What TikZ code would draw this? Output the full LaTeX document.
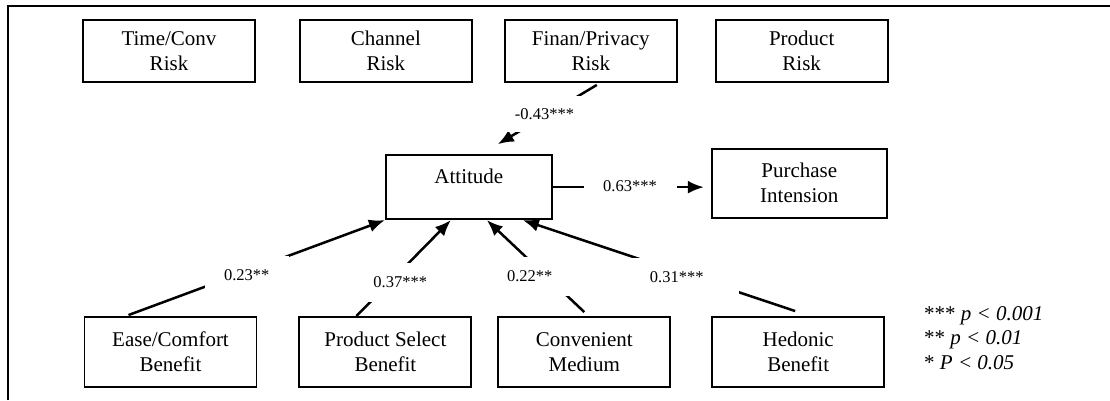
\documentclass[tikz,border=0pt]{standalone}
\usepackage{fontspec}
\setmainfont{Liberation Serif}
\usetikzlibrary{arrows.meta, positioning, calc}

\begin{document}
\begin{tikzpicture}[
    x=1pt, y=-1pt,
    block/.style={rectangle, draw, line width=1.9pt, align=center, minimum width=172pt, font=\fontsize{21pt}{25pt}\selectfont},
    riskblock/.style={block, minimum height=62pt},
    benefitblock/.style={block, minimum height=70pt},
    coef/.style={fill=white, inner sep=0pt, minimum width=84pt, minimum height=39pt, font=\fontsize{16.5pt}{19pt}\selectfont},
    effect/.style={draw, line width=2.5pt, -{Latex[length=16pt, width=13pt]}},
    legend/.style={align=left, inner sep=0pt, font=\fontsize{21pt}{24.6pt}\selectfont},
    outerframe/.style={draw, line width=2.7pt}
]
    \useasboundingbox (0,0) rectangle (1110,400);

    % Outer frame (only top and left edges fall inside the picture)
    \draw [outerframe] (8,400) |- (1110,6);

    % Row 1: Risks
    \node [riskblock] (time_risk) at (169,51) {Time/Conv\\Risk};
    \node [riskblock, right=43pt of time_risk] (channel_risk) {Channel\\Risk};
    \node [riskblock, right=31pt of channel_risk] (finan_risk) {Finan/Privacy\\Risk};
    \node [riskblock, right=37pt of finan_risk] (product_risk) {Product\\Risk};

    % Row 2: Attitude and Intention
    \node [block, minimum width=166pt, minimum height=64pt, text depth=22pt] (attitude) at (468.85,187.15) {Attitude};
    \node [block, minimum width=175pt, minimum height=69pt, right=158pt of attitude, yshift=4pt] (purchase) {Purchase\\Intension};

    % Row 3: Benefits
    \node [benefitblock] (ease_benefit) at (170.5,352) {Ease/Comfort\\Benefit};
    \node [benefitblock, right=41pt of ease_benefit] (select_benefit) {Product Select\\Benefit};
    \node [benefitblock, right=25pt of select_benefit] (conv_medium) {Convenient\\Medium};
    \node [benefitblock, right=40pt of conv_medium] (hedonic_benefit) {Hedonic\\Benefit};

    % Connections
    \path [effect] ([xshift=6pt,yshift=-2pt]finan_risk.south) -- ([xshift=29pt,yshift=10pt]attitude.north);
    \path [effect] ([xshift=-42pt,yshift=1pt]ease_benefit.north) -- (attitude.south west);
    \path [effect] ([xshift=-29pt]select_benefit.north) -- ([xshift=-18pt]attitude.south);
    \path [effect] ([yshift=4pt]conv_medium.north) -- ([xshift=18pt]attitude.south);
    \path [effect] ([xshift=-3pt,yshift=5pt]hedonic_benefit.north) -- ([xshift=54pt]attitude.south);
    \path [effect] (attitude.east) -- ($(attitude.east -| purchase.west)+(-7,0)$);

    % Path coefficients (white boxes over the lines)
    \node [coef, minimum height=36pt] (coef_finan) at (544.5,114) {-0.43***};
    \node [coef] (coef_ease) at (246.7,275) {0.23**};
    \node [coef] (coef_select) at (400.3,282) {0.37***};
    \node [coef] (coef_conv) at (529.7,276.5) {0.22**};
    \node [coef, minimum width=124pt] (coef_hedonic) at (676.7,277) {0.31***};
    \node [coef, minimum width=93pt] (coef_purchase) at (630,186) {0.63***};

    % Significance legend
    \node [legend, anchor=north west] (signif) at (924,306) {*** \textit{p < 0.001}\\** \textit{p < 0.01}\\* \textit{P < 0.05}};

\end{tikzpicture}
\end{document}
